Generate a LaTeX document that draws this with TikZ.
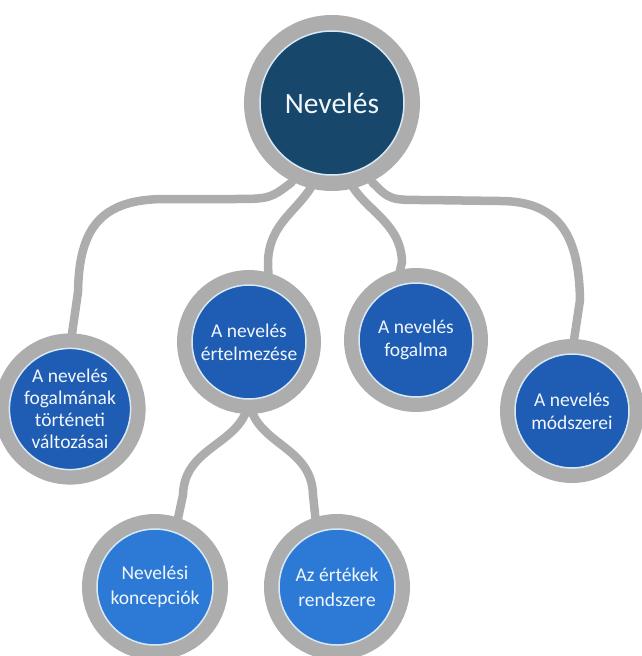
\documentclass[tikz,border=0pt]{standalone}
\usepackage{fontspec}
\setmainfont{Carlito}
\usetikzlibrary{backgrounds}

\definecolor{ringgray}{HTML}{ADADAD}
\definecolor{rootblue}{HTML}{17486B}
\definecolor{midblue}{HTML}{1F5CB3}
\definecolor{leafblue}{HTML}{2C7AD6}
\definecolor{rimline}{HTML}{D8E8F5}
\definecolor{labeltext}{HTML}{F2F7FC}

\tikzset{
  bubble/.style={circle, inner sep=0pt, align=center, text=labeltext,
    draw=rimline, line width=1.5pt,
    preaction={draw=ringgray, line width=#1}},
  rootnode/.style={bubble=32pt, fill=rootblue, minimum size=144pt,
    font=\fontsize{29.5}{34}\selectfont},
  topicnode/.style={bubble=30pt, fill=midblue, minimum size=114pt,
    font=\fontsize{19.5}{23}\selectfont},
  subnode/.style={bubble=30pt, fill=leafblue, minimum size=116pt,
    font=\fontsize{19.5}{25}\selectfont},
  link/.style={draw=ringgray, line width=8.5pt, line cap=round}
}

\begin{document}
\begin{tikzpicture}[x=1pt,y=-1pt]
  \useasboundingbox (0,0) rectangle (642,656);

  % nodes
  \node[rootnode]  (root) at (332,103) {Nevelés};
  \node[topicnode, minimum size=106pt,
        font=\fontsize{19.5}{22}\selectfont] (hist) at (70,409)
        {A nevelés\\fogalmának\\történeti\\változásai};
  \node[topicnode] (interp) at (249,342) {A nevelés\\értelmezése};
  \node[topicnode] (concept) at (416,340) {A nevelés\\fogalma};
  \node[topicnode] (methods) at (572,411) {A nevelés\\módszerei};
  \node[subnode]   (views) at (155,587) {Nevelési\\koncepciók};
  \node[subnode]   (values) at (337,587) {Az értékek\\rendszere};

  % connectors, kept behind the rings
  \begin{scope}[on background layer]
    \fill[white] (0,0) rectangle (642,656);
    \coordinate (r1) at (292,182);
    \coordinate (r2) at (314,182);
    \coordinate (r3) at (350,182);
    \coordinate (r4) at (372,182);
    \path[link] (r1) .. controls (270,199) .. (230,199) -- (165,199)
          .. controls (100,199) and (79,229) .. (78,292) -- (hist.north);
    \path[link] (r2) .. controls (300,210) and (269,222) .. (268,262) -- (interp.70);
    \path[link] (r3) .. controls (364,210) and (401,222) .. (402,262) -- (concept.110);
    \path[link] (r4) .. controls (390,200) .. (425,200) -- (500,201)
          .. controls (562,201) and (579,240) .. (580,300) -- (methods.north);
    \path[link] (interp.south) .. controls (244,445) and (184,445) .. (183,495) -- (views.70);
    \path[link] (interp.south) .. controls (254,445) and (312,445) .. (313,495) -- (values.110);
  \end{scope}
\end{tikzpicture}
\end{document}
